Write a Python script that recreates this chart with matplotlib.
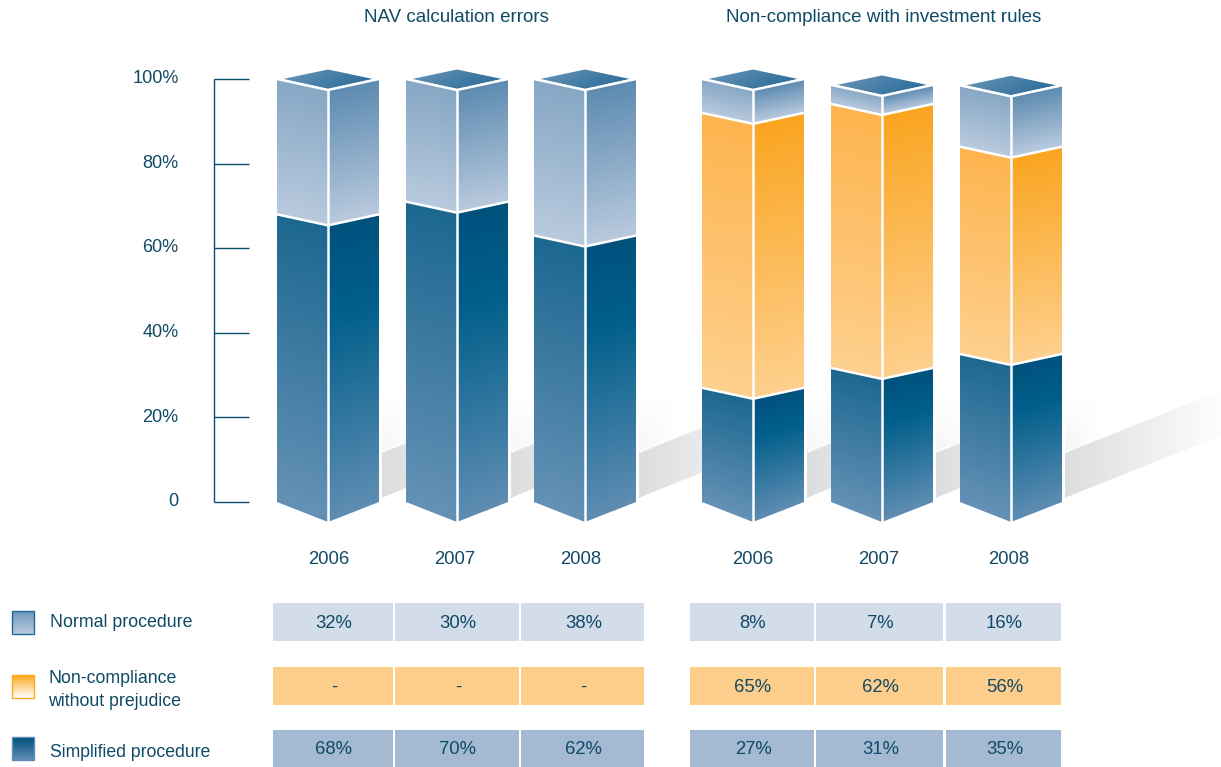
import matplotlib
matplotlib.use("Agg")
import matplotlib.pyplot as plt
from matplotlib.patches import Polygon
from matplotlib.colors import to_rgb
import numpy as np

plt.rcParams['font.family'] = ['Liberation Sans', 'DejaVu Sans']

# heights (the drawing does not always follow the table)
years = ["2006", "2007", "2008"]
group_titles = ["NAV calculation errors", "Non-compliance with investment rules"]
simplified_h = [68, 71, 63, 27, 31.7, 35]
noncompl_h = [0, 0, 0, 65, 62.4, 49]
normal_h = [32, 29, 37, 8, 4.5, 14.5]

yticks = [0, 20, 40, 60, 80, 100]
ytick_labels = ["0", "20%", "40%", "60%", "80%", "100%"]

legend_labels = ["Normal procedure", "Non-compliance", "without prejudice", "Simplified procedure"]
table_normal = ["32%", "30%", "38%", "8%", "7%", "16%"]
table_noncompl = ["-", "-", "-", "65%", "62%", "56%"]
table_simplified = ["68%", "70%", "62%", "27%", "31%", "35%"]

# layout, in pixels of the 1221x767 picture
PX_PER_PCT = 4.23
Y0 = 502
bar_left = [277, 406, 534, 702, 831, 960]
BAR_W = 103
year_x = [329, 455, 581, 753, 879, 1009]
cell_x = [(273, 393), (395, 519), (521, 644), (690, 814), (816, 943), (946, 1061)]
TXT = "#0f4a66"

# gradient stops: left face, right face
NORMAL_GRAD = (["#86a7c5", "#b9cade"], ["#5d8bb1", "#b9cade"])
ORANGE_GRAD = (["#fdb44e", "#fed08e"], ["#faa520", "#fed08e"])
SIMPLE_GRAD = (["#1c6890", "#6591b6"], ["#00527d", "#005f8a", "#5f8db3"])


def py(px):
    return (Y0 - px) / PX_PER_PCT


def ramp(stops, t):
    cols = np.array([to_rgb(c) for c in stops])
    pos = np.linspace(0, 1, len(cols)) if len(cols) != 3 else [0, 0.3, 1]
    return np.dstack([np.interp(t, pos, cols[:, i]) for i in range(3)])


def face(ax, x0, x1, top0, top1, bot0, bot1, stops, z=3):
    # one bar face, tops and bottoms given in pixels at x0 and x1
    xs = np.arange(x0, x1 + 1)
    ys = np.arange(min(top0, top1), max(bot0, bot1) + 1)
    X, Y = np.meshgrid(xs, ys)
    f = (X - x0) / (x1 - x0)
    top = top0 + (top1 - top0) * f
    bot = bot0 + (bot1 - bot0) * f
    t = np.clip((Y - top) / (bot - top), 0, 1)
    im = ax.imshow(ramp(stops, t), extent=(x0, x1, py(ys[-1]), py(ys[0])),
                   aspect="auto", origin="upper", zorder=z, interpolation="bilinear")
    pg = Polygon([(x0, py(top0)), (x1, py(top1)), (x1, py(bot1)), (x0, py(bot0))],
                 closed=True, transform=ax.transData, facecolor="none", edgecolor="none")
    ax.add_patch(pg)
    im.set_clip_path(pg)


def shadow(ax, x0, x1):
    # grey band running up to the right behind a bar, with a faint glow above it
    xs = np.arange(x0, x1 + 1)
    ys = np.arange(385, 500)
    X, Y = np.meshgrid(xs, ys)
    top = 453 - 0.4 * (X - x0)
    bot = 498 - 0.4 * (X - x0)
    fade = np.clip(1 - (X - x0) / 165, 0, 1)
    rgba = np.ones(X.shape + (4,))
    rgba[..., 0] = 0.865
    rgba[..., 1] = 0.87
    rgba[..., 2] = 0.875
    a = np.zeros(X.shape)
    a[(Y >= top) & (Y <= bot)] = 1
    a = a * fade
    glow = (Y < top - 2) & (Y > top - 52)
    side = np.clip(1 - (X - x0) / 36, 0, 1)
    a[glow] = (0.3 * (1 - (top[glow] - 2 - Y[glow]) / 50) * side[glow])
    rgba[..., 3] = a
    ax.imshow(rgba, extent=(x0, x1, py(ys[-1]), py(ys[0])), aspect="auto",
              origin="upper", zorder=1, interpolation="bilinear")


fig = plt.figure(figsize=(12.21, 7.67), dpi=100)
ax = fig.add_axes([0, 0, 1, 1])
ax.set_axis_off()

# shadows first, the bars cover the rest of them
for i, x in enumerate(bar_left):
    end = bar_left[i + 1] + 5 if i < 5 else x + BAR_W + 160
    shadow(ax, x + BAR_W + 2, end)

for i, x in enumerate(bar_left):
    xm = x + BAR_W // 2
    xr = x + BAR_W - 1
    edge = Y0
    drop = 20
    b = 0
    for h, grad in zip([simplified_h[i], noncompl_h[i], normal_h[i]],
                       [SIMPLE_GRAD, ORANGE_GRAD, NORMAL_GRAD]):
        if h == 0:
            continue
        b += h
        top = Y0 - b * PX_PER_PCT
        face(ax, x, xm, top, top + 11, edge, edge + drop, grad[0])
        face(ax, xm, xr, top + 11, top, edge + drop, edge, grad[1])
        edge = top
        drop = 11
        ax.plot([x, xm, xr], [py(top), py(top + 11), py(top)], color="white", lw=1.8, zorder=5,
                solid_joinstyle="miter")
    # cap of the bar
    top = edge
    xs = np.arange(x, xr + 1)
    ys = np.arange(top - 11, top + 12)
    X, Y = np.meshgrid(xs, ys)
    t = np.clip((X - x) / BAR_W + (Y - top) / 60, 0, 1)
    im = ax.imshow(ramp(["#6492b6", "#2a6b99"], t), extent=(x, xr, py(ys[-1]), py(ys[0])),
                   aspect="auto", origin="upper", zorder=3)
    cap = Polygon([(x + 6, py(top)), (xm, py(top - 9.5)), (xr - 6, py(top)), (xm, py(top + 10))],
                  closed=True, transform=ax.transData, facecolor="none", edgecolor="none")
    ax.add_patch(cap)
    im.set_clip_path(cap)
    ax.plot([xm, xm], [py(Y0 + 20), py(top + 11)], color="white", lw=1.8, zorder=5)

# y axis
ax.vlines(214, 0, 100, color="#0b4f6c", lw=1, zorder=2)
ax.hlines(yticks, 214, 249, color="#0b4f6c", lw=1, zorder=2)
for v, lab in zip(yticks, ytick_labels):
    ax.text(178.5, v + 0.05, lab, ha="right", va="center", fontsize=13.1, color=TXT)

for x, lab in zip(year_x, years * 2):
    ax.text(x, py(560), lab, ha="center", va="center", fontsize=13.3, color=TXT)
ax.text(456.5, py(18), group_titles[0], ha="center", va="center", fontsize=13.5, color=TXT)
ax.text(884, py(18), group_titles[1], ha="center", va="center", fontsize=13.5, color=TXT)

# table under the chart
rows = [(table_normal, 603, 641, "#d3dce9"),
        (table_noncompl, 667, 705, "#fdcd8c"),
        (table_simplified, 730, 768, "#a4b9d2")]
for vals, y0, y1, col in rows:
    for (x0, x1), val in zip(cell_x, vals):
        ax.fill_between([x0, x1], py(y1), py(y0), color=col, lw=0, zorder=2)
        ax.text((x0 + x1) / 2 + 1, py((y0 + y1) / 2 + 1), val, ha="center", va="center",
                fontsize=13.3, color=TXT, zorder=3)

# legend
swatches = [(611, ["#6f97bb", "#b9cade"], "#1f6a94"),
            (675, ["#fba91e", "#ffffff"], "#fba91e"),
            (737, ["#004f7c", "#5f8db3"], "#5f8db3")]
for (y, stops, ec) in swatches:
    face(ax, 12, 34, y, y, y + 23, y + 23, stops)
    ax.add_patch(Polygon([(12, py(y)), (34, py(y)), (34, py(y + 23)), (12, py(y + 23))],
                         closed=True, facecolor="none", edgecolor=ec, lw=1, zorder=4))
ax.text(50, py(622.5), legend_labels[0], ha="left", va="center", fontsize=12.8, color=TXT)
ax.text(48, py(678.5), legend_labels[1], ha="left", va="center", fontsize=12.8, color=TXT)
ax.text(48, py(701.5), legend_labels[2], ha="left", va="center", fontsize=12.8, color=TXT)
ax.text(50, py(752.5), legend_labels[3], ha="left", va="center", fontsize=12.7, color=TXT)

ax.set_xlim(0, 1221)
ax.set_ylim(py(767), py(0))

fig.savefig("out.png", dpi=100)
